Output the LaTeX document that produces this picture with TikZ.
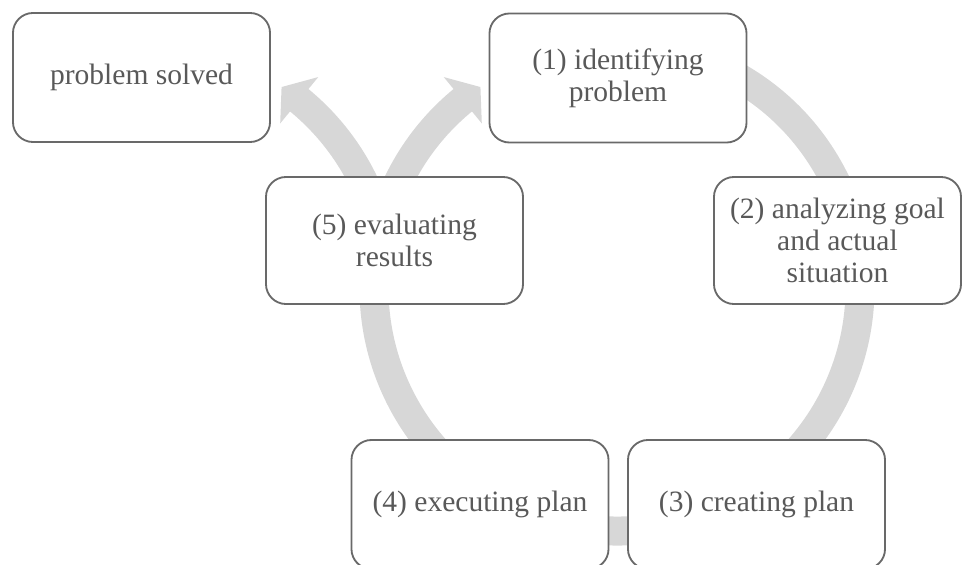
\documentclass[tikz,border=0pt]{standalone}
\usepackage{fontspec}
\setmainfont{Liberation Serif}
\usetikzlibrary{calc}
\definecolor{ringgray}{RGB}{215,215,215}
\definecolor{boxline}{RGB}{105,105,105}
\definecolor{textgray}{RGB}{89,89,89}

\begin{document}
\begin{tikzpicture}[x=0.025cm, y=0.025cm,
  stagebox/.style={draw=boxline, line width=1.3pt, fill=white, rounded corners=0.5cm,
    minimum width=6.425cm, minimum height=3.225cm, inner sep=0pt, align=center,
    text=textgray, font=\fontsize{21}{23}\selectfont},
  ring/.style={draw=ringgray, line width=0.725cm}]

\clip (0,0) rectangle (962,-565);

\coordinate (c1) at (617,-288);
\coordinate (c2) at (145,-288);

% the cycle, ending in the arrow back to (1)
\draw[ring] ($(c1)+(118:243)$) arc[start angle=118, end angle=-231, radius=243];
\fill[ringgray] ($(c1)+(129.4:273)$) -- ($(c1)+(124.2:243)$) -- ($(c1)+(129.4:213)$) -- cycle;

% way out to problem solved
\draw[ring] ($(c2)+(12:243)$) arc[start angle=12, end angle=51, radius=243];
\fill[ringgray] ($(c2)+(50.6:273)$) -- ($(c2)+(55.8:243)$) -- ($(c2)+(50.6:213)$) -- cycle;

\node[stagebox] (solved) at (141.5,-77.5) {problem solved};
\node[stagebox] (ident) at (618,-78) {(1) identifying\\problem};
\node[stagebox, minimum width=6.175cm, minimum height=3.175cm] (analyze) at (837.5,-240.5) {(2) analyzing goal\\and actual\\situation};
\node[stagebox] (create) at (756.5,-504.5) {(3) creating plan};
\node[stagebox] (execute) at (480,-504.5) {(4) executing plan};
\node[stagebox, minimum height=3.175cm] (evaluate) at (394.5,-240.5) {(5) evaluating\\results};

\end{tikzpicture}
\end{document}
